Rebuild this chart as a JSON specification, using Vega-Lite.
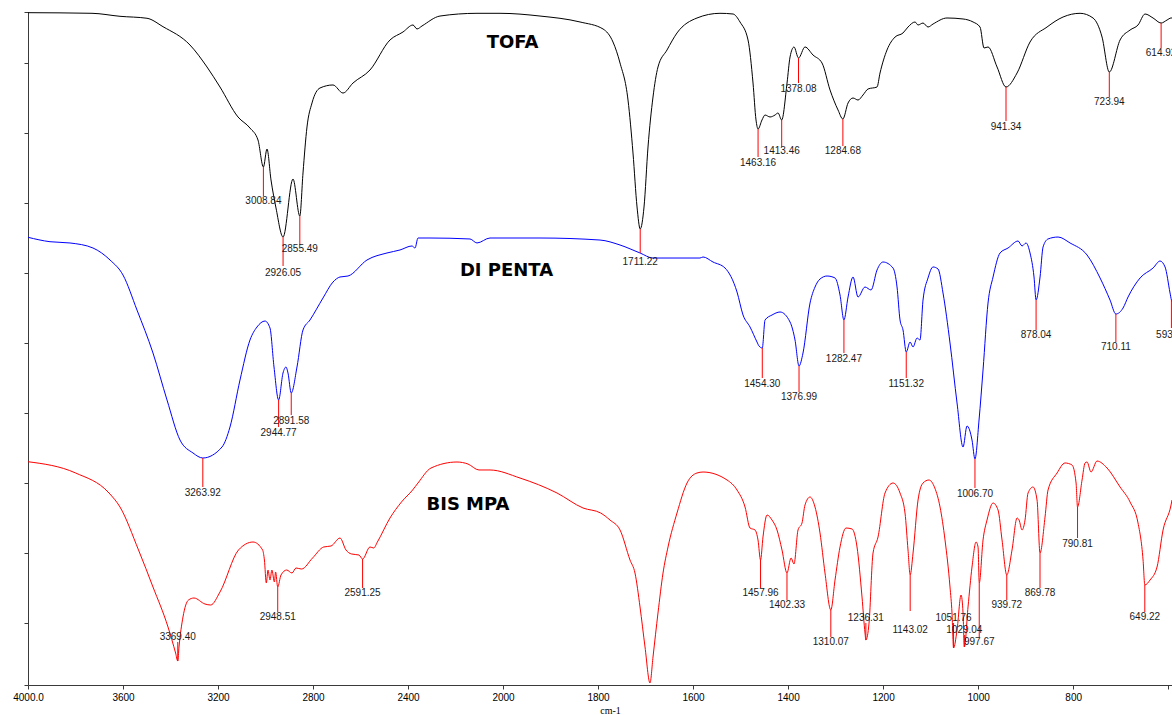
{
  "$schema": "https://vega.github.io/schema/vega-lite/v6.json",
  "width": 1144,
  "height": 673,
  "autosize": {"type": "none"},
  "padding": {"left": 28, "top": 12, "right": 0, "bottom": 30},
  "background": "#ffffff",
  "config": {"view": {"stroke": null}},
  "datasets": {
    "spectra": [
      {"series": "TOFA", "wn": 4000, "t": 92.19}, {"series": "TOFA", "wn": 3730.5, "t": 92.1}, {"series": "TOFA", "wn": 3612.6, "t": 91.67}, {"series": "TOFA", "wn": 3499, "t": 91.39}, {"series": "TOFA", "wn": 3431.6, "t": 90.19}, {"series": "TOFA", "wn": 3317.9, "t": 87.57}, {"series": "TOFA", "wn": 3246.3, "t": 84.43}, {"series": "TOFA", "wn": 3191.6, "t": 81.57}, {"series": "TOFA", "wn": 3115.8, "t": 77.29}, {"series": "TOFA", "wn": 3065.3, "t": 75.71}, {"series": "TOFA", "wn": 3031.6, "t": 74.0}, {"series": "TOFA", "wn": 3008.84, "t": 70.14}, {"series": "TOFA", "wn": 2993.7, "t": 72.71}, {"series": "TOFA", "wn": 2976.8, "t": 68.29}, {"series": "TOFA", "wn": 2955.8, "t": 64.29}, {"series": "TOFA", "wn": 2926.05, "t": 60.14}, {"series": "TOFA", "wn": 2884.2, "t": 68.43}, {"series": "TOFA", "wn": 2855.49, "t": 63.14}, {"series": "TOFA", "wn": 2842.1, "t": 69.29}, {"series": "TOFA", "wn": 2825.3, "t": 75.86}, {"series": "TOFA", "wn": 2804.2, "t": 79.29}, {"series": "TOFA", "wn": 2770.5, "t": 81.43}, {"series": "TOFA", "wn": 2715.8, "t": 81.86}, {"series": "TOFA", "wn": 2673.7, "t": 80.71}, {"series": "TOFA", "wn": 2631.6, "t": 82.14}, {"series": "TOFA", "wn": 2560, "t": 84.0}, {"series": "TOFA", "wn": 2475.8, "t": 88.29}, {"series": "TOFA", "wn": 2421.1, "t": 89.43}, {"series": "TOFA", "wn": 2378.9, "t": 90.43}, {"series": "TOFA", "wn": 2362.1, "t": 89.86}, {"series": "TOFA", "wn": 2341.1, "t": 90.29}, {"series": "TOFA", "wn": 2265.3, "t": 91.71}, {"series": "TOFA", "wn": 2109.5, "t": 92.1}, {"series": "TOFA", "wn": 2012.6, "t": 92.1}, {"series": "TOFA", "wn": 1922.1, "t": 91.71}, {"series": "TOFA", "wn": 1837.9, "t": 90.86}, {"series": "TOFA", "wn": 1789.5, "t": 89.86}, {"series": "TOFA", "wn": 1768.5, "t": 88.0}, {"series": "TOFA", "wn": 1753.7, "t": 85.0}, {"series": "TOFA", "wn": 1736.9, "t": 79.71}, {"series": "TOFA", "wn": 1726.4, "t": 72.14}, {"series": "TOFA", "wn": 1717.9, "t": 64.43}, {"series": "TOFA", "wn": 1711.22, "t": 61.29}, {"series": "TOFA", "wn": 1703.2, "t": 64.43}, {"series": "TOFA", "wn": 1694.8, "t": 73.0}, {"series": "TOFA", "wn": 1684.3, "t": 80.14}, {"series": "TOFA", "wn": 1673.8, "t": 84.43}, {"series": "TOFA", "wn": 1654.8, "t": 86.86}, {"series": "TOFA", "wn": 1633.8, "t": 89.29}, {"series": "TOFA", "wn": 1591.7, "t": 91.43}, {"series": "TOFA", "wn": 1543.3, "t": 92.1}, {"series": "TOFA", "wn": 1515.9, "t": 92.0}, {"series": "TOFA", "wn": 1501.2, "t": 90.86}, {"series": "TOFA", "wn": 1484.3, "t": 88.29}, {"series": "TOFA", "wn": 1473.8, "t": 82.14}, {"series": "TOFA", "wn": 1467.5, "t": 76.86}, {"series": "TOFA", "wn": 1463.16, "t": 75.57}, {"series": "TOFA", "wn": 1454.9, "t": 76.86}, {"series": "TOFA", "wn": 1448.5, "t": 77.57}, {"series": "TOFA", "wn": 1438, "t": 77.29}, {"series": "TOFA", "wn": 1427.5, "t": 77.57}, {"series": "TOFA", "wn": 1421.2, "t": 77.86}, {"series": "TOFA", "wn": 1413.46, "t": 76.86}, {"series": "TOFA", "wn": 1402.2, "t": 82.14}, {"series": "TOFA", "wn": 1395.9, "t": 85.86}, {"series": "TOFA", "wn": 1387.5, "t": 87.29}, {"series": "TOFA", "wn": 1378.08, "t": 85.71}, {"series": "TOFA", "wn": 1364.4, "t": 87.29}, {"series": "TOFA", "wn": 1347.5, "t": 86.14}, {"series": "TOFA", "wn": 1328.6, "t": 85.0}, {"series": "TOFA", "wn": 1311.7, "t": 81.14}, {"series": "TOFA", "wn": 1294.9, "t": 78.29}, {"series": "TOFA", "wn": 1284.68, "t": 77.0}, {"series": "TOFA", "wn": 1273.8, "t": 79.29}, {"series": "TOFA", "wn": 1263.3, "t": 80.0}, {"series": "TOFA", "wn": 1252.8, "t": 79.71}, {"series": "TOFA", "wn": 1242.3, "t": 80.43}, {"series": "TOFA", "wn": 1231.7, "t": 81.29}, {"series": "TOFA", "wn": 1212.8, "t": 81.57}, {"series": "TOFA", "wn": 1206.5, "t": 83.57}, {"series": "TOFA", "wn": 1191.8, "t": 86.86}, {"series": "TOFA", "wn": 1174.9, "t": 88.71}, {"series": "TOFA", "wn": 1158.1, "t": 89.29}, {"series": "TOFA", "wn": 1147.6, "t": 90.14}, {"series": "TOFA", "wn": 1132.8, "t": 90.86}, {"series": "TOFA", "wn": 1126.5, "t": 90.43}, {"series": "TOFA", "wn": 1116, "t": 90.71}, {"series": "TOFA", "wn": 1105.5, "t": 90.14}, {"series": "TOFA", "wn": 1094.9, "t": 90.57}, {"series": "TOFA", "wn": 1065.5, "t": 91.43}, {"series": "TOFA", "wn": 1031.8, "t": 91.29}, {"series": "TOFA", "wn": 1010.7, "t": 90.86}, {"series": "TOFA", "wn": 996, "t": 90.14}, {"series": "TOFA", "wn": 987.6, "t": 87.14}, {"series": "TOFA", "wn": 979.2, "t": 87.29}, {"series": "TOFA", "wn": 960.2, "t": 84.43}, {"series": "TOFA", "wn": 941.34, "t": 81.57}, {"series": "TOFA", "wn": 918.1, "t": 83.57}, {"series": "TOFA", "wn": 890.8, "t": 88.0}, {"series": "TOFA", "wn": 855, "t": 90.14}, {"series": "TOFA", "wn": 821.3, "t": 91.57}, {"series": "TOFA", "wn": 785.5, "t": 92.1}, {"series": "TOFA", "wn": 758.2, "t": 91.43}, {"series": "TOFA", "wn": 739.2, "t": 88.71}, {"series": "TOFA", "wn": 723.94, "t": 83.71}, {"series": "TOFA", "wn": 701.3, "t": 88.29}, {"series": "TOFA", "wn": 680.3, "t": 89.71}, {"series": "TOFA", "wn": 663.5, "t": 90.43}, {"series": "TOFA", "wn": 648.7, "t": 92.0}, {"series": "TOFA", "wn": 631.9, "t": 91.43}, {"series": "TOFA", "wn": 614.92, "t": 90.71}, {"series": "TOFA", "wn": 602.4, "t": 91.14}, {"series": "TOFA", "wn": 594, "t": 91.43}, {"series": "TOFA", "wn": 592, "t": 91.43},

      {"series": "DI PENTA", "wn": 4000, "t": 60.1}, {"series": "DI PENTA", "wn": 3907.4, "t": 59.47}, {"series": "DI PENTA", "wn": 3823.2, "t": 59.29}, {"series": "DI PENTA", "wn": 3726.3, "t": 58.57}, {"series": "DI PENTA", "wn": 3654.7, "t": 56.86}, {"series": "DI PENTA", "wn": 3600, "t": 54.71}, {"series": "DI PENTA", "wn": 3541.1, "t": 49.71}, {"series": "DI PENTA", "wn": 3473.7, "t": 43.57}, {"series": "DI PENTA", "wn": 3414.7, "t": 36.86}, {"series": "DI PENTA", "wn": 3360, "t": 31.14}, {"series": "DI PENTA", "wn": 3305.3, "t": 29.29}, {"series": "DI PENTA", "wn": 3263.92, "t": 28.57}, {"series": "DI PENTA", "wn": 3183.2, "t": 30.14}, {"series": "DI PENTA", "wn": 3149.5, "t": 33.0}, {"series": "DI PENTA", "wn": 3107.4, "t": 39.71}, {"series": "DI PENTA", "wn": 3065.3, "t": 45.43}, {"series": "DI PENTA", "wn": 3035.8, "t": 47.29}, {"series": "DI PENTA", "wn": 3002.1, "t": 48.14}, {"series": "DI PENTA", "wn": 2981.1, "t": 47.14}, {"series": "DI PENTA", "wn": 2964.2, "t": 41.57}, {"series": "DI PENTA", "wn": 2944.77, "t": 36.86}, {"series": "DI PENTA", "wn": 2926.3, "t": 40.71}, {"series": "DI PENTA", "wn": 2913.7, "t": 41.57}, {"series": "DI PENTA", "wn": 2905.3, "t": 40.71}, {"series": "DI PENTA", "wn": 2891.58, "t": 37.86}, {"series": "DI PENTA", "wn": 2867.4, "t": 41.57}, {"series": "DI PENTA", "wn": 2842.1, "t": 46.86}, {"series": "DI PENTA", "wn": 2812.6, "t": 48.29}, {"series": "DI PENTA", "wn": 2757.9, "t": 51.43}, {"series": "DI PENTA", "wn": 2715.8, "t": 53.71}, {"series": "DI PENTA", "wn": 2686.3, "t": 54.43}, {"series": "DI PENTA", "wn": 2652.6, "t": 54.57}, {"series": "DI PENTA", "wn": 2572.6, "t": 56.86}, {"series": "DI PENTA", "wn": 2488.4, "t": 57.86}, {"series": "DI PENTA", "wn": 2433.7, "t": 58.29}, {"series": "DI PENTA", "wn": 2383.2, "t": 58.86}, {"series": "DI PENTA", "wn": 2370.5, "t": 58.57}, {"series": "DI PENTA", "wn": 2357.9, "t": 60.0}, {"series": "DI PENTA", "wn": 2307.4, "t": 60.0}, {"series": "DI PENTA", "wn": 2138.9, "t": 59.86}, {"series": "DI PENTA", "wn": 2109.5, "t": 59.29}, {"series": "DI PENTA", "wn": 2054.7, "t": 60.0}, {"series": "DI PENTA", "wn": 1922.1, "t": 60.0}, {"series": "DI PENTA", "wn": 1795.8, "t": 59.71}, {"series": "DI PENTA", "wn": 1753.7, "t": 59.0}, {"series": "DI PENTA", "wn": 1711.6, "t": 57.86}, {"series": "DI PENTA", "wn": 1684.3, "t": 57.14}, {"series": "DI PENTA", "wn": 1585.4, "t": 57.14}, {"series": "DI PENTA", "wn": 1579, "t": 57.29}, {"series": "DI PENTA", "wn": 1558, "t": 56.57}, {"series": "DI PENTA", "wn": 1532.7, "t": 55.71}, {"series": "DI PENTA", "wn": 1507.5, "t": 52.29}, {"series": "DI PENTA", "wn": 1494.8, "t": 49.0}, {"series": "DI PENTA", "wn": 1480.1, "t": 47.29}, {"series": "DI PENTA", "wn": 1465.4, "t": 45.14}, {"series": "DI PENTA", "wn": 1461.2, "t": 44.57}, {"series": "DI PENTA", "wn": 1454.3, "t": 44.29}, {"series": "DI PENTA", "wn": 1448.5, "t": 48.29}, {"series": "DI PENTA", "wn": 1433.8, "t": 49.0}, {"series": "DI PENTA", "wn": 1416.9, "t": 49.43}, {"series": "DI PENTA", "wn": 1395.9, "t": 48.0}, {"series": "DI PENTA", "wn": 1385.4, "t": 45.43}, {"series": "DI PENTA", "wn": 1376.99, "t": 41.71}, {"series": "DI PENTA", "wn": 1368.6, "t": 43.57}, {"series": "DI PENTA", "wn": 1353.8, "t": 50.71}, {"series": "DI PENTA", "wn": 1343.3, "t": 53.0}, {"series": "DI PENTA", "wn": 1332.8, "t": 54.14}, {"series": "DI PENTA", "wn": 1318, "t": 54.57}, {"series": "DI PENTA", "wn": 1301.2, "t": 54.29}, {"series": "DI PENTA", "wn": 1290.7, "t": 51.86}, {"series": "DI PENTA", "wn": 1282.47, "t": 48.29}, {"series": "DI PENTA", "wn": 1273.8, "t": 51.57}, {"series": "DI PENTA", "wn": 1263.3, "t": 54.43}, {"series": "DI PENTA", "wn": 1252.8, "t": 51.57}, {"series": "DI PENTA", "wn": 1238.1, "t": 53.0}, {"series": "DI PENTA", "wn": 1225.4, "t": 52.57}, {"series": "DI PENTA", "wn": 1212.8, "t": 55.43}, {"series": "DI PENTA", "wn": 1200.2, "t": 56.57}, {"series": "DI PENTA", "wn": 1179.1, "t": 55.71}, {"series": "DI PENTA", "wn": 1170.7, "t": 53.0}, {"series": "DI PENTA", "wn": 1164.4, "t": 48.29}, {"series": "DI PENTA", "wn": 1158.1, "t": 46.86}, {"series": "DI PENTA", "wn": 1151.32, "t": 43.71}, {"series": "DI PENTA", "wn": 1143.3, "t": 45.14}, {"series": "DI PENTA", "wn": 1137, "t": 44.43}, {"series": "DI PENTA", "wn": 1128.6, "t": 45.71}, {"series": "DI PENTA", "wn": 1122.3, "t": 45.43}, {"series": "DI PENTA", "wn": 1116, "t": 51.14}, {"series": "DI PENTA", "wn": 1105.5, "t": 54.29}, {"series": "DI PENTA", "wn": 1094.9, "t": 55.86}, {"series": "DI PENTA", "wn": 1084.4, "t": 55.57}, {"series": "DI PENTA", "wn": 1073.9, "t": 52.14}, {"series": "DI PENTA", "wn": 1059.2, "t": 45.0}, {"series": "DI PENTA", "wn": 1044.4, "t": 36.43}, {"series": "DI PENTA", "wn": 1031.8, "t": 30.14}, {"series": "DI PENTA", "wn": 1023.4, "t": 33.14}, {"series": "DI PENTA", "wn": 1012.9, "t": 31.14}, {"series": "DI PENTA", "wn": 1006.7, "t": 28.43}, {"series": "DI PENTA", "wn": 998.1, "t": 34.0}, {"series": "DI PENTA", "wn": 989.7, "t": 41.14}, {"series": "DI PENTA", "wn": 979.2, "t": 50.71}, {"series": "DI PENTA", "wn": 968.6, "t": 54.43}, {"series": "DI PENTA", "wn": 953.9, "t": 57.86}, {"series": "DI PENTA", "wn": 937.1, "t": 58.57}, {"series": "DI PENTA", "wn": 916, "t": 59.57}, {"series": "DI PENTA", "wn": 907.6, "t": 58.86}, {"series": "DI PENTA", "wn": 899.2, "t": 59.29}, {"series": "DI PENTA", "wn": 890.8, "t": 57.86}, {"series": "DI PENTA", "wn": 882.4, "t": 54.43}, {"series": "DI PENTA", "wn": 878.04, "t": 51.14}, {"series": "DI PENTA", "wn": 869.7, "t": 54.43}, {"series": "DI PENTA", "wn": 863.4, "t": 58.71}, {"series": "DI PENTA", "wn": 852.9, "t": 59.86}, {"series": "DI PENTA", "wn": 831.8, "t": 60.14}, {"series": "DI PENTA", "wn": 806.6, "t": 59.29}, {"series": "DI PENTA", "wn": 770.8, "t": 57.57}, {"series": "DI PENTA", "wn": 743.4, "t": 54.29}, {"series": "DI PENTA", "wn": 722.4, "t": 51.14}, {"series": "DI PENTA", "wn": 710.11, "t": 49.14}, {"series": "DI PENTA", "wn": 695, "t": 50.0}, {"series": "DI PENTA", "wn": 684.5, "t": 51.57}, {"series": "DI PENTA", "wn": 659.2, "t": 54.29}, {"series": "DI PENTA", "wn": 631.9, "t": 55.71}, {"series": "DI PENTA", "wn": 617.1, "t": 56.71}, {"series": "DI PENTA", "wn": 606.6, "t": 55.86}, {"series": "DI PENTA", "wn": 596.1, "t": 52.14}, {"series": "DI PENTA", "wn": 593.24, "t": 51.14}, {"series": "DI PENTA", "wn": 592, "t": 50.86},

      {"series": "BIS MPA", "wn": 4000, "t": 28.04}, {"series": "BIS MPA", "wn": 3799.6, "t": 26.43}, {"series": "BIS MPA", "wn": 3658.9, "t": 23.57}, {"series": "BIS MPA", "wn": 3612.6, "t": 21.57}, {"series": "BIS MPA", "wn": 3534.7, "t": 15.43}, {"series": "BIS MPA", "wn": 3473.7, "t": 10.14}, {"series": "BIS MPA", "wn": 3410.5, "t": 4.43}, {"series": "BIS MPA", "wn": 3378.5, "t": 0.71}, {"series": "BIS MPA", "wn": 3369.4, "t": -0.43}, {"series": "BIS MPA", "wn": 3364.2, "t": 1.57}, {"series": "BIS MPA", "wn": 3347.4, "t": 5.86}, {"series": "BIS MPA", "wn": 3324.2, "t": 8.29}, {"series": "BIS MPA", "wn": 3301.1, "t": 8.57}, {"series": "BIS MPA", "wn": 3254.7, "t": 7.71}, {"series": "BIS MPA", "wn": 3230.7, "t": 7.57}, {"series": "BIS MPA", "wn": 3191.6, "t": 9.43}, {"series": "BIS MPA", "wn": 3113.7, "t": 15.43}, {"series": "BIS MPA", "wn": 3052.6, "t": 16.57}, {"series": "BIS MPA", "wn": 3012.2, "t": 15.43}, {"series": "BIS MPA", "wn": 3004.6, "t": 14.0}, {"series": "BIS MPA", "wn": 2996.6, "t": 10.71}, {"series": "BIS MPA", "wn": 2989.5, "t": 12.57}, {"series": "BIS MPA", "wn": 2981.1, "t": 11.14}, {"series": "BIS MPA", "wn": 2973.1, "t": 12.57}, {"series": "BIS MPA", "wn": 2962.5, "t": 10.86}, {"series": "BIS MPA", "wn": 2957.5, "t": 12.29}, {"series": "BIS MPA", "wn": 2948.51, "t": 10.14}, {"series": "BIS MPA", "wn": 2934.7, "t": 11.86}, {"series": "BIS MPA", "wn": 2910.7, "t": 12.57}, {"series": "BIS MPA", "wn": 2888.4, "t": 12.14}, {"series": "BIS MPA", "wn": 2871.6, "t": 12.86}, {"series": "BIS MPA", "wn": 2848.4, "t": 12.71}, {"series": "BIS MPA", "wn": 2801.7, "t": 14.29}, {"series": "BIS MPA", "wn": 2754.9, "t": 15.86}, {"series": "BIS MPA", "wn": 2724.2, "t": 16.0}, {"series": "BIS MPA", "wn": 2686.3, "t": 17.14}, {"series": "BIS MPA", "wn": 2661.1, "t": 15.43}, {"series": "BIS MPA", "wn": 2637.9, "t": 14.86}, {"series": "BIS MPA", "wn": 2606.3, "t": 14.71}, {"series": "BIS MPA", "wn": 2591.25, "t": 14.14}, {"series": "BIS MPA", "wn": 2560, "t": 15.86}, {"series": "BIS MPA", "wn": 2544.4, "t": 15.71}, {"series": "BIS MPA", "wn": 2528.9, "t": 16.57}, {"series": "BIS MPA", "wn": 2475.8, "t": 20.0}, {"series": "BIS MPA", "wn": 2427.4, "t": 22.29}, {"series": "BIS MPA", "wn": 2380.6, "t": 24.0}, {"series": "BIS MPA", "wn": 2357.9, "t": 25.0}, {"series": "BIS MPA", "wn": 2303.2, "t": 27.14}, {"series": "BIS MPA", "wn": 2193.7, "t": 28.0}, {"series": "BIS MPA", "wn": 2147.4, "t": 27.71}, {"series": "BIS MPA", "wn": 2101.1, "t": 26.86}, {"series": "BIS MPA", "wn": 2054.7, "t": 26.86}, {"series": "BIS MPA", "wn": 1964.2, "t": 25.71}, {"series": "BIS MPA", "wn": 1886.3, "t": 23.57}, {"series": "BIS MPA", "wn": 1831.6, "t": 21.43}, {"series": "BIS MPA", "wn": 1794.4, "t": 20.71}, {"series": "BIS MPA", "wn": 1774.8, "t": 19.71}, {"series": "BIS MPA", "wn": 1753.7, "t": 18.29}, {"series": "BIS MPA", "wn": 1732.7, "t": 14.0}, {"series": "BIS MPA", "wn": 1722.2, "t": 12.14}, {"series": "BIS MPA", "wn": 1711.6, "t": 7.29}, {"series": "BIS MPA", "wn": 1701.1, "t": 1.57}, {"series": "BIS MPA", "wn": 1690.6, "t": -3.57}, {"series": "BIS MPA", "wn": 1684.3, "t": 0.14}, {"series": "BIS MPA", "wn": 1673.8, "t": 6.43}, {"series": "BIS MPA", "wn": 1663.2, "t": 12.14}, {"series": "BIS MPA", "wn": 1652.7, "t": 15.86}, {"series": "BIS MPA", "wn": 1633.8, "t": 20.71}, {"series": "BIS MPA", "wn": 1612.7, "t": 25.0}, {"series": "BIS MPA", "wn": 1591.7, "t": 26.43}, {"series": "BIS MPA", "wn": 1579, "t": 26.57}, {"series": "BIS MPA", "wn": 1528.5, "t": 25.43}, {"series": "BIS MPA", "wn": 1507.5, "t": 24.0}, {"series": "BIS MPA", "wn": 1490.6, "t": 21.57}, {"series": "BIS MPA", "wn": 1480.1, "t": 18.57}, {"series": "BIS MPA", "wn": 1469.6, "t": 18.29}, {"series": "BIS MPA", "wn": 1463.3, "t": 16.86}, {"series": "BIS MPA", "wn": 1457.96, "t": 14.0}, {"series": "BIS MPA", "wn": 1452.8, "t": 17.29}, {"series": "BIS MPA", "wn": 1444.3, "t": 20.43}, {"series": "BIS MPA", "wn": 1433.8, "t": 19.71}, {"series": "BIS MPA", "wn": 1423.3, "t": 18.29}, {"series": "BIS MPA", "wn": 1412.8, "t": 15.43}, {"series": "BIS MPA", "wn": 1402.33, "t": 12.14}, {"series": "BIS MPA", "wn": 1393.8, "t": 14.29}, {"series": "BIS MPA", "wn": 1387.5, "t": 13.43}, {"series": "BIS MPA", "wn": 1379.1, "t": 18.29}, {"series": "BIS MPA", "wn": 1370.7, "t": 19.29}, {"series": "BIS MPA", "wn": 1364.4, "t": 21.86}, {"series": "BIS MPA", "wn": 1353.8, "t": 23.0}, {"series": "BIS MPA", "wn": 1343.3, "t": 21.57}, {"series": "BIS MPA", "wn": 1332.8, "t": 17.86}, {"series": "BIS MPA", "wn": 1322.3, "t": 12.14}, {"series": "BIS MPA", "wn": 1310.07, "t": 6.86}, {"series": "BIS MPA", "wn": 1301.2, "t": 11.14}, {"series": "BIS MPA", "wn": 1290.7, "t": 15.86}, {"series": "BIS MPA", "wn": 1278.1, "t": 18.57}, {"series": "BIS MPA", "wn": 1265.4, "t": 18.43}, {"series": "BIS MPA", "wn": 1254.9, "t": 15.86}, {"series": "BIS MPA", "wn": 1244.4, "t": 8.71}, {"series": "BIS MPA", "wn": 1238.1, "t": 3.57}, {"series": "BIS MPA", "wn": 1236.31, "t": 2.57}, {"series": "BIS MPA", "wn": 1229.6, "t": 5.0}, {"series": "BIS MPA", "wn": 1221.2, "t": 15.0}, {"series": "BIS MPA", "wn": 1210.7, "t": 17.29}, {"series": "BIS MPA", "wn": 1196, "t": 23.57}, {"series": "BIS MPA", "wn": 1179.1, "t": 25.0}, {"series": "BIS MPA", "wn": 1164.4, "t": 23.57}, {"series": "BIS MPA", "wn": 1153.9, "t": 20.71}, {"series": "BIS MPA", "wn": 1147.6, "t": 15.43}, {"series": "BIS MPA", "wn": 1143.02, "t": 11.86}, {"series": "BIS MPA", "wn": 1137, "t": 15.0}, {"series": "BIS MPA", "wn": 1126.5, "t": 22.57}, {"series": "BIS MPA", "wn": 1116, "t": 25.0}, {"series": "BIS MPA", "wn": 1103.6, "t": 25.43}, {"series": "BIS MPA", "wn": 1091.2, "t": 24.29}, {"series": "BIS MPA", "wn": 1080.2, "t": 21.57}, {"series": "BIS MPA", "wn": 1069.7, "t": 16.86}, {"series": "BIS MPA", "wn": 1059.2, "t": 10.14}, {"series": "BIS MPA", "wn": 1055, "t": 6.43}, {"series": "BIS MPA", "wn": 1051.76, "t": 1.43}, {"series": "BIS MPA", "wn": 1044.4, "t": 4.0}, {"series": "BIS MPA", "wn": 1036, "t": 9.0}, {"series": "BIS MPA", "wn": 1031.8, "t": 6.43}, {"series": "BIS MPA", "wn": 1029.04, "t": 1.57}, {"series": "BIS MPA", "wn": 1021.3, "t": 7.29}, {"series": "BIS MPA", "wn": 1012.9, "t": 13.0}, {"series": "BIS MPA", "wn": 1004.4, "t": 16.57}, {"series": "BIS MPA", "wn": 1000.2, "t": 15.86}, {"series": "BIS MPA", "wn": 997.67, "t": 10.71}, {"series": "BIS MPA", "wn": 989.7, "t": 16.86}, {"series": "BIS MPA", "wn": 981.3, "t": 19.71}, {"series": "BIS MPA", "wn": 968.6, "t": 22.14}, {"series": "BIS MPA", "wn": 958.1, "t": 21.14}, {"series": "BIS MPA", "wn": 949.7, "t": 16.86}, {"series": "BIS MPA", "wn": 939.72, "t": 11.86}, {"series": "BIS MPA", "wn": 928.7, "t": 15.43}, {"series": "BIS MPA", "wn": 918.1, "t": 20.0}, {"series": "BIS MPA", "wn": 913.9, "t": 19.71}, {"series": "BIS MPA", "wn": 907.6, "t": 18.29}, {"series": "BIS MPA", "wn": 901.3, "t": 19.71}, {"series": "BIS MPA", "wn": 895, "t": 23.57}, {"series": "BIS MPA", "wn": 884.5, "t": 24.43}, {"series": "BIS MPA", "wn": 876, "t": 22.57}, {"series": "BIS MPA", "wn": 869.78, "t": 15.0}, {"series": "BIS MPA", "wn": 859.2, "t": 20.14}, {"series": "BIS MPA", "wn": 852.9, "t": 24.0}, {"series": "BIS MPA", "wn": 833.9, "t": 26.43}, {"series": "BIS MPA", "wn": 817.1, "t": 27.86}, {"series": "BIS MPA", "wn": 802.4, "t": 27.57}, {"series": "BIS MPA", "wn": 793.9, "t": 25.0}, {"series": "BIS MPA", "wn": 790.81, "t": 21.57}, {"series": "BIS MPA", "wn": 781.3, "t": 25.43}, {"series": "BIS MPA", "wn": 775, "t": 27.86}, {"series": "BIS MPA", "wn": 770.8, "t": 28.0}, {"series": "BIS MPA", "wn": 762.4, "t": 26.57}, {"series": "BIS MPA", "wn": 749.8, "t": 28.14}, {"series": "BIS MPA", "wn": 728.7, "t": 27.14}, {"series": "BIS MPA", "wn": 701.3, "t": 24.43}, {"series": "BIS MPA", "wn": 680.3, "t": 22.29}, {"series": "BIS MPA", "wn": 663.5, "t": 19.29}, {"series": "BIS MPA", "wn": 652.9, "t": 14.0}, {"series": "BIS MPA", "wn": 649.22, "t": 10.43}, {"series": "BIS MPA", "wn": 638.2, "t": 11.14}, {"series": "BIS MPA", "wn": 623.5, "t": 13.0}, {"series": "BIS MPA", "wn": 610.8, "t": 18.29}, {"series": "BIS MPA", "wn": 594, "t": 21.86}, {"series": "BIS MPA", "wn": 592, "t": 22.57}
    ],
    "peaks": [
      {"series": "TOFA", "wn": 3008.84, "peak": 70.14, "tip": 66.0, "lab": 65.29},
      {"series": "TOFA", "wn": 2926.05, "peak": 60.14, "tip": 56.0, "lab": 55.0},
      {"series": "TOFA", "wn": 2855.49, "peak": 63.14, "tip": 59.0, "lab": 58.43},
      {"series": "TOFA", "wn": 1711.22, "peak": 61.29, "tip": 57.86, "lab": 56.57},
      {"series": "TOFA", "wn": 1463.16, "peak": 75.57, "tip": 71.57, "lab": 70.71},
      {"series": "TOFA", "wn": 1413.46, "peak": 76.86, "tip": 73.0, "lab": 72.43},
      {"series": "TOFA", "wn": 1378.08, "peak": 85.71, "tip": 82.14, "lab": 81.29},
      {"series": "TOFA", "wn": 1284.68, "peak": 77.0, "tip": 73.14, "lab": 72.43},
      {"series": "TOFA", "wn": 941.34, "peak": 81.57, "tip": 76.71, "lab": 75.86},
      {"series": "TOFA", "wn": 723.94, "peak": 83.71, "tip": 80.14, "lab": 79.43},
      {"series": "TOFA", "wn": 614.92, "peak": 90.71, "tip": 87.14, "lab": 86.43},
      {"series": "DI PENTA", "wn": 3263.92, "peak": 28.57, "tip": 24.43, "lab": 23.57},
      {"series": "DI PENTA", "wn": 2944.77, "peak": 36.86, "tip": 33.0, "lab": 32.14},
      {"series": "DI PENTA", "wn": 2891.58, "peak": 37.86, "tip": 34.71, "lab": 33.86},
      {"series": "DI PENTA", "wn": 1454.3, "peak": 44.29, "tip": 40.0, "lab": 39.14},
      {"series": "DI PENTA", "wn": 1376.99, "peak": 41.71, "tip": 38.0, "lab": 37.29},
      {"series": "DI PENTA", "wn": 1282.47, "peak": 48.29, "tip": 43.57, "lab": 42.71},
      {"series": "DI PENTA", "wn": 1151.32, "peak": 43.71, "tip": 40.0, "lab": 39.14},
      {"series": "DI PENTA", "wn": 1006.7, "peak": 28.43, "tip": 24.29, "lab": 23.43},
      {"series": "DI PENTA", "wn": 878.04, "peak": 51.14, "tip": 46.86, "lab": 46.14},
      {"series": "DI PENTA", "wn": 710.11, "peak": 49.14, "tip": 45.14, "lab": 44.43},
      {"series": "DI PENTA", "wn": 593.24, "peak": 51.14, "tip": 47.14, "lab": 46.14},
      {"series": "BIS MPA", "wn": 3369.4, "peak": -0.43, "tip": 2.29, "lab": 3.0},
      {"series": "BIS MPA", "wn": 2948.51, "peak": 10.14, "tip": 6.57, "lab": 5.86},
      {"series": "BIS MPA", "wn": 2591.25, "peak": 14.14, "tip": 10.0, "lab": 9.29},
      {"series": "BIS MPA", "wn": 1457.96, "peak": 14.0, "tip": 10.0, "lab": 9.29},
      {"series": "BIS MPA", "wn": 1402.33, "peak": 12.14, "tip": 8.29, "lab": 7.57},
      {"series": "BIS MPA", "wn": 1310.07, "peak": 6.86, "tip": 3.0, "lab": 2.29},
      {"series": "BIS MPA", "wn": 1236.31, "peak": 2.57, "tip": 5.0, "lab": 5.71},
      {"series": "BIS MPA", "wn": 1143.02, "peak": 11.86, "tip": 6.71, "lab": 4.0},
      {"series": "BIS MPA", "wn": 1051.76, "peak": 1.43, "tip": 5.0, "lab": 5.71},
      {"series": "BIS MPA", "wn": 1029.04, "peak": 1.57, "tip": 3.29, "lab": 4.0},
      {"series": "BIS MPA", "wn": 997.67, "peak": 10.71, "tip": 3.0, "lab": 2.29},
      {"series": "BIS MPA", "wn": 939.72, "peak": 11.86, "tip": 8.29, "lab": 7.57},
      {"series": "BIS MPA", "wn": 869.78, "peak": 15.0, "tip": 10.0, "lab": 9.29},
      {"series": "BIS MPA", "wn": 790.81, "peak": 21.57, "tip": 17.14, "lab": 16.29},
      {"series": "BIS MPA", "wn": 649.22, "peak": 10.43, "tip": 6.57, "lab": 5.86}
    ],
    "names": [
      {"series": "TOFA", "wn": 1980, "t": 87.86},
      {"series": "DI PENTA", "wn": 1992.6, "t": 55.29},
      {"series": "BIS MPA", "wn": 2147.4, "t": 21.86}
    ]
  },
  "layer": [
    {
      "data": {"name": "spectra"},
      "mark": {"type": "line", "strokeWidth": 1, "interpolate": "monotone"},
      "encoding": {
        "x": {
          "field": "wn", "type": "quantitative",
          "scale": {"type": "linear", "domain": [4000, 2000, 592], "range": [0, 475, 1144], "nice": false, "zero": false},
          "axis": {
            "values": [4000, 3600, 3200, 2800, 2400, 2000, 1800, 1600, 1400, 1200, 1000, 800, 600],
            "format": "d",
            "labelExpr": "datum.value == 4000 ? '4000.0' : (datum.value == 600 ? '' : datum.label)",
            "labelFlush": false, "labelOverlap": false, "grid": false,
            "tickSize": 4, "labelPadding": 3,
            "labelFont": "Liberation Sans", "labelFontSize": 10, "labelColor": "#000000",
            "domainColor": "#3a3a3a", "tickColor": "#3a3a3a",
            "title": "cm-1", "titleFont": "Liberation Serif", "titleFontSize": 10,
            "titleFontWeight": "normal", "titleColor": "#000000", "titlePadding": 3, "titleX": 582
          }
        },
        "y": {
          "field": "t", "type": "quantitative",
          "scale": {"domain": [-3.857, 92.286], "nice": false, "zero": false},
          "axis": {
            "values": [-3.857, 0, 5, 10, 15, 20, 25, 30, 35, 40, 45, 50, 55, 60, 65, 70, 75, 80, 85, 90, 92.286],
            "labels": false, "grid": false, "title": null, "tickSize": 4,
            "domainColor": "#3a3a3a", "tickColor": "#3a3a3a"
          }
        },
        "color": {
          "field": "series", "type": "nominal",
          "scale": {"domain": ["TOFA", "DI PENTA", "BIS MPA"], "range": ["#000000", "#0000ff", "#ff0000"]},
          "legend": null
        }
      }
    },
    {
      "data": {"name": "peaks"},
      "mark": {"type": "rule", "color": "#ff0000", "strokeWidth": 1},
      "encoding": {
        "x": {"field": "wn", "type": "quantitative"},
        "y": {"field": "peak", "type": "quantitative"},
        "y2": {"field": "tip"}
      }
    },
    {
      "data": {"name": "peaks"},
      "mark": {"type": "text", "font": "Liberation Sans", "fontSize": 10, "color": "#1a1a1a", "align": "center", "baseline": "middle"},
      "encoding": {
        "x": {"field": "wn", "type": "quantitative"},
        "y": {"field": "lab", "type": "quantitative"},
        "text": {"field": "wn", "type": "quantitative", "format": ".2f"}
      }
    },
    {
      "data": {"name": "names"},
      "mark": {"type": "text", "font": "DejaVu Sans", "fontSize": 18, "fontWeight": "bold", "color": "#000000", "align": "center", "baseline": "middle"},
      "encoding": {
        "x": {"field": "wn", "type": "quantitative"},
        "y": {"field": "t", "type": "quantitative"},
        "text": {"field": "series", "type": "nominal"}
      }
    }
  ]
}
